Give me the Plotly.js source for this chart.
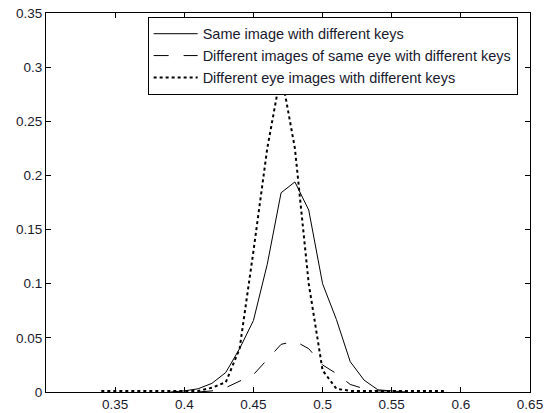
<!DOCTYPE html>
<html>
<head>
<meta charset="utf-8">
<script src="https://cdn.plot.ly/plotly-3.0.1.min.js"></script>
<style>html,body{margin:0;padding:0;background:#fff;}#chart{width:550px;height:413px;}</style>
</head>
<body>
<div id="chart"></div>
<script>
// Series names
const seriesNames = [
  "Same image with different keys",
  "Different images of same eye with different keys",
  "Different eye images with different keys"
];

// Same image with different keys (solid)
const xSame = [0.39,0.40,0.41,0.42,0.43,0.44,0.45,0.46,0.47,0.48,0.49,0.50,0.51,0.52,0.53,0.54,0.55,0.56];
const ySame = [0.000,0.001,0.003,0.008,0.018,0.040,0.066,0.118,0.184,0.194,0.168,0.100,0.067,0.028,0.011,0.002,0.001,0.000];

// Different images of same eye with different keys (dashed)
const xSameEye = [0.41,0.42,0.43,0.44,0.45,0.46,0.47,0.48,0.49,0.50,0.51,0.52,0.53,0.54,0.55,0.56];
const ySameEye = [0.000,0.001,0.004,0.010,0.016,0.030,0.044,0.047,0.040,0.025,0.017,0.007,0.003,0.001,0.001,0.000];

// Different eye images with different keys (dotted)
const xDiffEye = [0.34,0.35,0.36,0.37,0.38,0.39,0.40,0.41,0.42,0.43,0.44,0.45,0.46,0.47,0.48,0.49,0.50,0.51,0.52,0.53,0.54,0.55,0.56,0.57,0.58,0.59];
const yDiffEye = [0.001,0.001,0.001,0.001,0.001,0.001,0.001,0.001,0.004,0.009,0.040,0.130,0.225,0.295,0.225,0.100,0.020,0.003,0.001,0.001,0.001,0.001,0.001,0.001,0.001,0.001];

// Tick values
const xTicks = [0.35,0.40,0.45,0.50,0.55,0.60,0.65];
const yTicks = [0,0.05,0.10,0.15,0.20,0.25,0.30,0.35];

const traces = [
  {x:xSame, y:ySame, name:seriesNames[0], mode:'lines', line:{color:'#000', width:1, dash:'solid'}},
  {x:xSameEye, y:ySameEye, name:seriesNames[1], mode:'lines', line:{color:'#000', width:1, dash:'longdash'}},
  {x:xDiffEye, y:yDiffEye, name:seriesNames[2], mode:'lines', line:{color:'#000', width:2, dash:'dot'}}
];

const axisCommon = {
  showline:true, linecolor:'#000', linewidth:1, mirror:'ticks',
  ticks:'inside', ticklen:5, tickcolor:'#000', tickwidth:1,
  showgrid:false, zeroline:false,
  tickfont:{family:'Liberation Sans, Arial, sans-serif', size:13.5, color:'#1a1a2e'}
};

const layout = {
  width:550, height:413,
  margin:{l:46, r:20, t:13, b:21},
  paper_bgcolor:'#fff', plot_bgcolor:'#fff',
  showlegend:true,
  xaxis:Object.assign({}, axisCommon, {range:[0.3,0.65], tickmode:'array', tickvals:xTicks}),
  yaxis:Object.assign({}, axisCommon, {range:[0,0.35], tickmode:'array', tickvals:yTicks}),
  legend:{
    x:0.21, y:0.99, xanchor:'left', yanchor:'top',
    bgcolor:'#fff', bordercolor:'#000', borderwidth:1,
    font:{family:'Liberation Sans, Arial, sans-serif', size:14.5, color:'#1a1a2e'},
    itemwidth:44, tracegroupgap:0
  }
};

Plotly.newPlot('chart', traces, layout, {displayModeBar:false, staticPlot:true});
</script>
</body>
</html>
